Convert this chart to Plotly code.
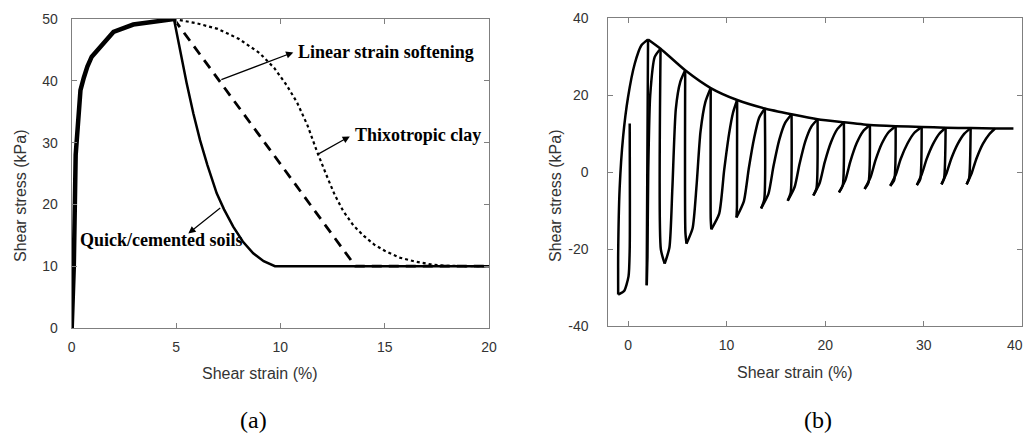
import plotly.graph_objects as go

# ---------------- (a) data ----------------
hard_x = [0, 0.1, 0.19, 0.3, 0.42, 0.58, 0.75, 0.96, 1.36, 2.0, 2.95, 4.9]
hard_y = [0, 10, 28, 34.5, 38.5, 40.5, 42.3, 43.9, 45.5, 47.9, 49.1, 50]

quick_x = [4.9, 5.2, 5.51, 5.83, 6.15, 6.5, 6.95, 7.3, 7.74, 8.2, 8.7, 9.2, 9.74, 20]
quick_y = [50, 44.8, 39.6, 34.7, 30.4, 26.4, 21.8, 19.2, 16.4, 14.0, 12.1, 10.8, 10, 10]

linear_x = [4.9, 13.6, 20]
linear_y = [50, 10, 10]

thixo_x = [4.9, 6.0, 7.0, 8.0, 9.0, 9.7, 10.3, 10.8, 11.3, 11.74, 12.2, 12.6, 13.0, 13.5,
           14.0, 14.5, 15.0, 15.7, 16.4, 17.2, 18.0, 18.8, 20]
thixo_y = [50, 49.3, 48.4, 46.8, 44.5, 42.1, 39.3, 36.5, 32.8, 28.7, 24.8, 21.6, 19.0, 16.6,
           14.9, 13.5, 12.5, 11.4, 10.8, 10.3, 10.05, 10.0, 10.0]

# ---------------- (b) data ----------------
start_drop_x = [0.17, 0.17, 0.05, -0.4, -1.0]
start_drop_y = [12.7, -20, -27, -30.8, -31.7]
first_rise_x = [-1.0, -1.0, -0.85, -0.5, 0.0, 0.68, 1.36, 2.03]
first_rise_y = [-31.7, -21, -4.1, 9.2, 19.5, 28.2, 33.0, 34.5]

top_x = [2.03, 3.3, 5.8, 8.39, 11.07, 13.88, 16.59, 19.23, 21.9, 24.54, 27.15, 29.79, 32.22, 34.76, 37.23]
top_y = [34.5, 32.1, 26.5, 21.9, 18.8, 16.6, 15.1, 13.8, 13.0, 12.3, 12.0, 11.8, 11.6, 11.5, 11.4]
bottom_x = [-1.0, 1.9, 3.72, 5.93, 8.45, 11.0, 13.5, 16.2, 18.8, 21.4, 24.0, 26.6, 29.3, 31.8, 34.35]
bottom_y = [-31.7, -29.3, -23.7, -18.5, -14.8, -11.7, -9.35, -7.36, -6.0, -5.2, -4.3, -3.5, -3.3, -3.1, -3.1]

# knee of each near-vertical drop (drop k goes from top k-1 to bottom k)
dk_x = [None, 1.9, 3.33, 5.82, 8.39, 11.05, 13.82, 16.5, 19.12, 21.78, 24.4, 27.0, 29.64, 32.06, 34.6]
dk_y = [None, -25, -20, -15.5, -12, -9, -7, -5.3, -4.1, -3.4, -2.6, -2.0, -1.8, -1.6, -1.6]

# points along each reloading branch (branch k goes from bottom k to top k)
r1_x = [None, 1.97, 4.2, 6.55, 9.25, 11.75, 14.25, 16.9, 19.45, 22.05, 24.6, 27.15, 29.8, 32.3, 34.85]
r1_y = [None, -22, -19.5, -14.5, -10.7, -7.5, -5.5, -3.8, -2.7, -2.0, -1.3, -0.7, -0.5, -0.3, -0.3]
r2_x = [None, 2.05, 4.5, 6.95, 9.75, 12.25, 14.75, 17.4, 19.95, 22.55, 25.1, 27.65, 30.3, 32.8, 35.35]
r2_y = [None, 0, -4, -3.5, 0.5, 1.0, 1.5, 2.2, 2.6, 2.8, 3.1, 3.4, 3.5, 3.6, 3.6]
r3_x = [None, 2.25, 4.85, 7.35, 10.25, 12.8, 15.35, 18.0, 20.6, 23.2, 25.75, 28.35, 30.95, 33.45, 36.0]
r3_y = [None, 20, 16.5, 10.5, 10.0, 9.0, 8.5, 8.2, 7.9, 7.6, 7.5, 7.5, 7.4, 7.4, 7.4]
r4_x = [None, 2.71, 5.3, 7.85, 10.65, 13.3, 15.95, 18.6, 21.25, 23.85, 26.45, 29.05, 31.6, 34.1, 36.65]
r4_y = [None, 30.0, 23.5, 18.3, 15.5, 14.2, 12.9, 11.9, 11.3, 10.7, 10.5, 10.3, 10.1, 10.0, 9.9]
env_end_x, env_end_y = 39.1, 11.4

AX_COLOR = "#7f7f7f"
TICK_FONT = dict(family="Liberation Sans, Arial", size=14, color="#333333")

fig = go.Figure()

# (a) traces
fig.add_trace(go.Scatter(x=hard_x, y=hard_y, mode="lines", line=dict(color="black", width=4.5),
                         xaxis="x", yaxis="y", showlegend=False))
fig.add_trace(go.Scatter(x=quick_x, y=quick_y, mode="lines", line=dict(color="black", width=2.5),
                         xaxis="x", yaxis="y", showlegend=False))
fig.add_trace(go.Scatter(x=linear_x, y=linear_y, mode="lines", line=dict(color="black", width=2.8, dash="10px,7px"),
                         xaxis="x", yaxis="y", showlegend=False))
fig.add_trace(go.Scatter(x=thixo_x, y=thixo_y, mode="lines", line=dict(color="black", width=2.2, dash="dot"),
                         xaxis="x", yaxis="y", showlegend=False))

# (b) traces
line_b = dict(color="black", width=2.5, shape="spline", smoothing=0.6)
fig.add_trace(go.Scatter(x=start_drop_x, y=start_drop_y, mode="lines", line=line_b,
                         xaxis="x2", yaxis="y2", showlegend=False))
fig.add_trace(go.Scatter(x=first_rise_x, y=first_rise_y, mode="lines", line=line_b,
                         xaxis="x2", yaxis="y2", showlegend=False))
for k in range(1, len(bottom_x)):
    fig.add_trace(go.Scatter(x=[top_x[k - 1], dk_x[k], bottom_x[k]],
                             y=[top_y[k - 1], dk_y[k], bottom_y[k]],
                             mode="lines", line=line_b, xaxis="x2", yaxis="y2", showlegend=False))
    fig.add_trace(go.Scatter(x=[bottom_x[k], r1_x[k], r2_x[k], r3_x[k], r4_x[k], top_x[k]],
                             y=[bottom_y[k], r1_y[k], r2_y[k], r3_y[k], r4_y[k], top_y[k]],
                             mode="lines", line=line_b, xaxis="x2", yaxis="y2", showlegend=False))
fig.add_trace(go.Scatter(x=top_x + [env_end_x], y=top_y + [env_end_y], mode="lines",
                         line=line_b, xaxis="x2", yaxis="y2", showlegend=False))

axis_common = dict(showline=True, linecolor=AX_COLOR, linewidth=1, mirror="ticks",
                   ticks="inside", ticklen=5, tickcolor=AX_COLOR, showgrid=False,
                   zeroline=False, tickfont=TICK_FONT, automargin=False)

xa_ticks = [0, 5, 10, 15, 20]
ya_ticks = [0, 10, 20, 30, 40, 50]
xb_ticks = [0, 10, 20, 30, 40]
yb_ticks = [-40, -20, 0, 20, 40]

fig.update_layout(
    width=1026, height=438,
    margin=dict(l=0, r=0, t=0, b=0),
    paper_bgcolor="white", plot_bgcolor="white",
    xaxis=dict(domain=[0.0699, 0.4766], range=[0, 20], tickvals=xa_ticks,
               ticktext=[str(v) for v in xa_ticks], ticklabelstandoff=6, anchor="y", **axis_common),
    yaxis=dict(domain=[0.2511, 0.9566], range=[0, 50], tickvals=ya_ticks,
               ticktext=[str(v) for v in ya_ticks], ticklabelstandoff=10, anchor="x", **axis_common),
    xaxis2=dict(domain=[0.5929, 0.9964], range=[-2, 40], tickvals=xb_ticks,
                ticktext=[str(v) if v != xb_ticks[-1] else "" for v in xb_ticks],
                ticklabelstandoff=6, anchor="y2", **axis_common),
    yaxis2=dict(domain=[0.2546, 0.9582], range=[-40, 40], tickvals=yb_ticks,
                ticktext=[str(v) for v in yb_ticks], ticklabelstandoff=16, anchor="x2", **axis_common),
)

title_font = dict(family="Liberation Sans, Arial", size=16, color="#333333")
note_font = dict(family="Liberation Serif, Times New Roman", size=18, color="black")
cap_font = dict(family="Liberation Serif, Times New Roman", size=24, color="black")


def px(xp, yp):
    return xp / 1026, (438 - yp) / 438


anns = []
for txt, (xp, yp), rot, font in [
    ("Shear strain (%)", (260, 373), 0, title_font),
    ("Shear strain (%)", (795, 372), 0, title_font),
    ("Shear stress (kPa)", (20, 196), -90, title_font),
    ("Shear stress (kPa)", (555, 196), -90, title_font),
    ("(a)", (253, 420), 0, cap_font),
    ("(b)", (818, 420), 0, cap_font),
]:
    xf, yf = px(xp, yp)
    anns.append(dict(text=txt, x=xf, y=yf, xref="paper", yref="paper", showarrow=False,
                     textangle=rot, font=font, xanchor="center", yanchor="middle"))

# last x tick label of (b): kept fully inside the page edge
anns.append(dict(text=str(xb_ticks[-1]), x=1025 / 1026, y=(438 - 345) / 438, xref="paper", yref="paper",
                 showarrow=False, font=TICK_FONT, xanchor="right", yanchor="middle"))

for txt, xv, yv in [("<b>Linear strain softening</b>", 10.75, 44.7),
                    ("<b>Thixotropic clay</b>", 13.48, 31.2),
                    ("<b>Quick/cemented soils</b>", 0.32, 14.2)]:
    anns.append(dict(text=txt, x=xv, y=yv, xref="x", yref="y", showarrow=False,
                     font=note_font, xanchor="left", yanchor="middle"))

for (tx, ty, hx, hy) in [(7.1, 40.1, 10.62, 44.6), (11.74, 28.0, 13.33, 31.0), (7.19, 19.6, 5.59, 15.3)]:
    anns.append(dict(text="", x=hx, y=hy, ax=tx, ay=ty, xref="x", yref="y", axref="x", ayref="y",
                     showarrow=True, arrowhead=2, arrowsize=1.2, arrowwidth=1.2, arrowcolor="black",
                     standoff=0, startstandoff=0))

fig.update_layout(annotations=anns)
fig.write_html("out.html")
